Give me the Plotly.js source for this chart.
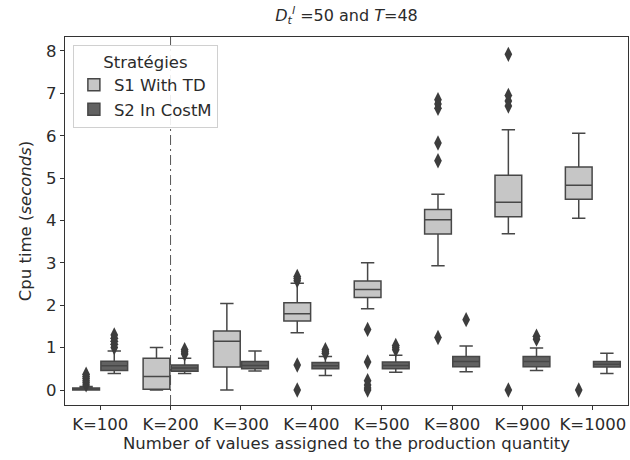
<!DOCTYPE html>
<html>
<head>
<meta charset="utf-8">
<script src="https://cdn.plot.ly/plotly-3.0.1.min.js"></script>
<style>html,body{margin:0;padding:0;background:#fff;}#chart{width:630px;height:460px;}</style>
</head>
<body>
<div id="chart"></div>
<script>
var categories = ['K=100','K=200','K=300','K=400','K=500','K=800','K=900','K=1000'];
var seriesNames = ['S1 With TD','S2 In CostM'];

var s1_q1  = [0.00, 0.02, 0.54, 1.63, 2.18, 3.68, 4.09, 4.50];
var s1_med = [0.02, 0.32, 1.15, 1.80, 2.37, 4.02, 4.43, 4.83];
var s1_q3  = [0.05, 0.75, 1.39, 2.06, 2.57, 4.26, 5.07, 5.26];
var s1_lo  = [0.00, 0.00, 0.00, 1.35, 1.92, 2.93, 3.69, 4.05];
var s1_hi  = [0.08, 1.00, 2.04, 2.52, 3.00, 4.62, 6.14, 6.06];
var s1_out = [
  [0.12, 0.17, 0.22, 0.27, 0.32, 0.37],
  [],
  [],
  [2.58, 2.63, 2.68, 0.59, 0.00],
  [1.43, 0.66, 0.22, 0.12, 0.05, 0.00],
  [6.65, 6.75, 6.85, 5.83, 5.41, 1.24],
  [7.92, 6.70, 6.82, 6.95, 0.00],
  [0.00]
];

var s2_q1  = [0.46, 0.44, 0.50, 0.50, 0.50, 0.55, 0.55, 0.54];
var s2_med = [0.57, 0.52, 0.58, 0.57, 0.58, 0.67, 0.67, 0.61];
var s2_q3  = [0.68, 0.59, 0.67, 0.65, 0.66, 0.79, 0.79, 0.67];
var s2_lo  = [0.39, 0.39, 0.45, 0.34, 0.42, 0.43, 0.46, 0.39];
var s2_hi  = [0.92, 0.75, 0.92, 0.79, 0.82, 1.04, 0.99, 0.87];
var s2_out = [
  [1.00, 1.08, 1.15, 1.22, 1.30],
  [0.85, 0.90, 0.95],
  [],
  [0.86, 0.90, 0.95],
  [0.95, 1.00, 1.05],
  [1.66],
  [1.20, 1.27],
  []
];

var OFFSET = 0.2, BOXW = 0.38;
var idx = categories.map(function(c,i){return i;});

function boxTrace(name, q1, med, q3, lo, hi, off, fill) {
  return {
    type: 'box', name: name,
    x: idx.map(function(i){return i + off;}),
    q1: q1, median: med, q3: q3, lowerfence: lo, upperfence: hi,
    width: BOXW, whiskerwidth: 0.5,
    fillcolor: fill,
    line: {color: '#474747', width: 1.5},
    boxpoints: false,
    hoverinfo: 'skip'
  };
}
function outTrace(out, off) {
  var xs = [], ys = [];
  out.forEach(function(arr, i){ arr.forEach(function(v){ xs.push(i + off); ys.push(v); }); });
  return {
    type: 'scatter', mode: 'markers', x: xs, y: ys, showlegend: false,
    marker: {symbol: 'diamond-tall', size: 11, color: '#3d3d3d', line: {width: 0}},
    hoverinfo: 'skip'
  };
}

var data = [
  boxTrace(seriesNames[0], s1_q1, s1_med, s1_q3, s1_lo, s1_hi, -OFFSET, '#c6c6c6'),
  boxTrace(seriesNames[1], s2_q1, s2_med, s2_q3, s2_lo, s2_hi, OFFSET, '#626262'),
  outTrace(s1_out, -OFFSET),
  outTrace(s2_out, OFFSET)
];

var font = {family: 'DejaVu Sans, sans-serif', size: 16.5, color: '#2b2b2b'};
var layout = {
  width: 630, height: 460,
  margin: {l: 65, r: 2, t: 37, b: 55},
  paper_bgcolor: '#fff', plot_bgcolor: '#fff',
  font: font,
  showlegend: true,
  title: {
    text: '<i>D</i><sub><i>t</i></sub><sup><i>l</i></sup> =50 and <i>T</i>=48',
    x: 0.55, xanchor: 'center', y: 0.967, yanchor: 'middle',
    font: {family: 'DejaVu Sans, sans-serif', size: 16, color: '#2b2b2b'}
  },
  xaxis: {
    range: [-0.5, 7.5], tickmode: 'array', tickvals: idx, ticktext: categories,
    showgrid: false, zeroline: false, showline: true, mirror: true,
    linecolor: '#333', linewidth: 1.2, ticks: 'outside', ticklen: 4, tickcolor: '#333',
    tickfont: font,
    title: {text: 'Number of values assigned to the production quantity', font: font, standoff: 4}
  },
  yaxis: {
    range: [-0.354, 8.33], tickmode: 'linear', tick0: 0, dtick: 1,
    showgrid: false, zeroline: false, showline: true, mirror: true,
    linecolor: '#333', linewidth: 1.2, ticks: 'outside', ticklen: 4, tickcolor: '#333',
    tickfont: font,
    title: {text: 'Cpu time (<i>seconds</i>)', font: font, standoff: 10}
  },
  legend: {
    x: 0.014, y: 0.978, xanchor: 'left', yanchor: 'top',
    bgcolor: 'rgba(255,255,255,0.9)', bordercolor: '#d0d0d0', borderwidth: 1,
    title: {text: 'Stratégies', side: 'top center', font: font},
    font: font, tracegroupgap: 4
  },
  shapes: [{
    type: 'line', xref: 'x', yref: 'paper', x0: 1, x1: 1, y0: 0, y1: 1,
    line: {color: '#555', width: 1, dash: '10px,4px,2px,4px'}, layer: 'below'
  }]
};

Plotly.newPlot('chart', data, layout, {displayModeBar: false, staticPlot: true});
</script>
</body>
</html>
